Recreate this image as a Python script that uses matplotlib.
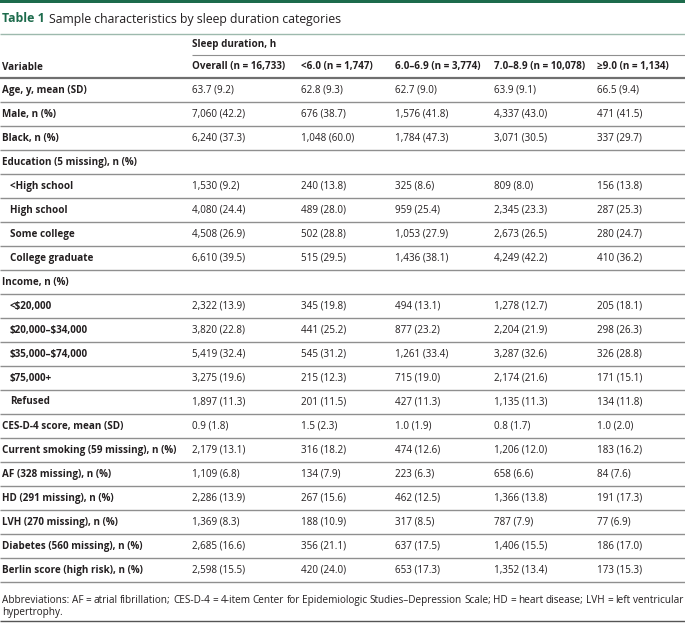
import matplotlib.pyplot as plt

plt.rcParams['font.family'] = ['Open Sans', 'DejaVu Sans']
plt.rcParams['text.parse_math'] = False

title_num = 'Table 1'
title_text = 'Sample characteristics by sleep duration categories'
group_header = 'Sleep duration, h'
col_headers = ['Variable', 'Overall (n = 16,733)', '<6.0 (n = 1,747)',
               '6.0–6.9 (n = 3,774)', '7.0–8.9 (n = 10,078)', '≥9.0 (n = 1,134)']

variables = ['Age, y, mean (SD)', 'Male, n (%)', 'Black, n (%)',
             'Education (5 missing), n (%)', '<High school', 'High school',
             'Some college', 'College graduate', 'Income, n (%)', '<$20,000',
             '$20,000–$34,000', '$35,000–$74,000', '$75,000+', 'Refused',
             'CES-D-4 score, mean (SD)', 'Current smoking (59 missing), n (%)',
             'AF (328 missing), n (%)', 'HD (291 missing), n (%)',
             'LVH (270 missing), n (%)', 'Diabetes (560 missing), n (%)',
             'Berlin score (high risk), n (%)']
indented = [False, False, False, False, True, True, True, True, False, True,
            True, True, True, True, False, False, False, False, False, False, False]

overall = ['63.7 (9.2)', '7,060 (42.2)', '6,240 (37.3)', '', '1,530 (9.2)',
           '4,080 (24.4)', '4,508 (26.9)', '6,610 (39.5)', '', '2,322 (13.9)',
           '3,820 (22.8)', '5,419 (32.4)', '3,275 (19.6)', '1,897 (11.3)',
           '0.9 (1.8)', '2,179 (13.1)', '1,109 (6.8)', '2,286 (13.9)',
           '1,369 (8.3)', '2,685 (16.6)', '2,598 (15.5)']
lt6 = ['62.8 (9.3)', '676 (38.7)', '1,048 (60.0)', '', '240 (13.8)',
       '489 (28.0)', '502 (28.8)', '515 (29.5)', '', '345 (19.8)',
       '441 (25.2)', '545 (31.2)', '215 (12.3)', '201 (11.5)',
       '1.5 (2.3)', '316 (18.2)', '134 (7.9)', '267 (15.6)',
       '188 (10.9)', '356 (21.1)', '420 (24.0)']
h6_69 = ['62.7 (9.0)', '1,576 (41.8)', '1,784 (47.3)', '', '325 (8.6)',
         '959 (25.4)', '1,053 (27.9)', '1,436 (38.1)', '', '494 (13.1)',
         '877 (23.2)', '1,261 (33.4)', '715 (19.0)', '427 (11.3)',
         '1.0 (1.9)', '474 (12.6)', '223 (6.3)', '462 (12.5)',
         '317 (8.5)', '637 (17.5)', '653 (17.3)']
h7_89 = ['63.9 (9.1)', '4,337 (43.0)', '3,071 (30.5)', '', '809 (8.0)',
         '2,345 (23.3)', '2,673 (26.5)', '4,249 (42.2)', '', '1,278 (12.7)',
         '2,204 (21.9)', '3,287 (32.6)', '2,174 (21.6)', '1,135 (11.3)',
         '0.8 (1.7)', '1,206 (12.0)', '658 (6.6)', '1,366 (13.8)',
         '787 (7.9)', '1,406 (15.5)', '1,352 (13.4)']
ge9 = ['66.5 (9.4)', '471 (41.5)', '337 (29.7)', '', '156 (13.8)',
       '287 (25.3)', '280 (24.7)', '410 (36.2)', '', '205 (18.1)',
       '298 (26.3)', '326 (28.8)', '171 (15.1)', '134 (11.8)',
       '1.0 (2.0)', '183 (16.2)', '84 (7.6)', '191 (17.3)',
       '77 (6.9)', '186 (17.0)', '173 (15.3)']

footnote = ('Abbreviations: AF = atrial fibrillation; CES-D-4 = 4-item Center for Epidemiologic '
            'Studies–Depression Scale; HD = heart disease; LVH = left ventricular hypertrophy.')

W, H = 685, 623
green = '#1d6b4c'
ink = '#231f20'
rule = '#8f8f8f'
fs = 7.1

fig = plt.figure(figsize=(W / 100, H / 100), dpi=100)
ax = fig.add_axes([0, 0, 1, 1])
ax.set_xlim(0, W)
ax.set_ylim(H, 0)
ax.axis('off')

# top bar and title
ax.axhspan(0, 3, color=green, lw=0)
ax.text(2, 19, title_num, color=green, fontsize=8.9, fontweight='bold', va='center')
ax.text(49, 19, title_text, color=ink, fontsize=8.8, va='center')
ax.hlines(34, 0, W, color='#9db9ad', lw=1)

col_x = [2, 192, 301, 395, 494, 597]
ax.text(col_x[1], 45, group_header, color=ink, fontsize=fs, fontweight='bold', va='center')
ax.hlines(55, col_x[1], W, color=rule, lw=0.8)
for x, h in zip(col_x, col_headers):
    ax.text(x, 67, h, color=ink, fontsize=fs, fontweight='bold', va='center')
ax.hlines(78, 0, W, color='#6f6f6f', lw=1.6)

cols = [overall, lt6, h6_69, h7_89, ge9]
y0, pitch = 90, 24
for i, var in enumerate(variables):
    y = y0 + i * pitch
    ax.text(col_x[0] + (8 if indented[i] else 0), y, var, color=ink,
            fontsize=fs, fontweight='bold', va='center')
    for x, col in zip(col_x[1:], cols):
        ax.text(x, y, col[i], color=ink, fontsize=fs, va='center')
    ax.hlines(y + 12, 0, W, color=rule, lw=1)

# footnote in a narrow face, first line justified
ffam = ['Liberation Sans Narrow', 'Open Sans', 'DejaVu Sans']
ffs = 7.2
fig.canvas.draw()
renderer = fig.canvas.get_renderer()


def text_width(s):
    t = ax.text(0, 0, s, fontsize=ffs, family=ffam)
    wd = t.get_window_extent(renderer).width
    t.remove()
    return wd


words = footnote.split(' ')
first, second = words[:-1], words[-1:]
starts = [text_width(' '.join(first[:k + 1])) - text_width(first[k]) for k in range(len(first))]
extra = (W - 4 - text_width(' '.join(first))) / (len(first) - 1)
fy = 603
for k, w in enumerate(first):
    ax.text(2 + starts[k] + k * extra, fy, w, fontsize=ffs, family=ffam, color=ink, va='baseline')
ax.text(2, fy + 12, ' '.join(second), fontsize=ffs, family=ffam, color=ink, va='baseline')
ax.hlines(621, 0, W, color='#555555', lw=1)

fig.savefig('out.png', dpi=100)
